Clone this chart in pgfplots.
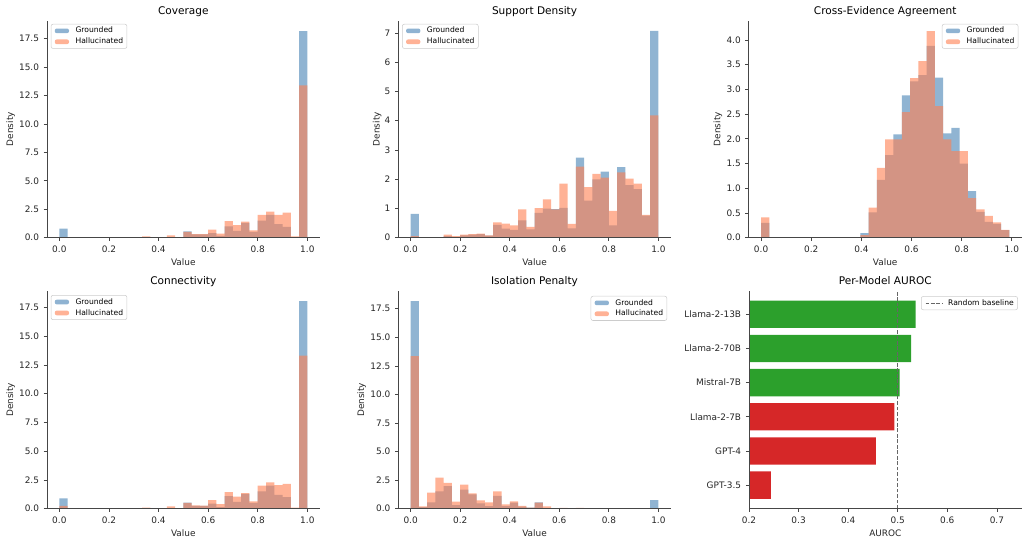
\documentclass[border=0pt]{standalone}
\usepackage{fontspec}
\setmainfont{DejaVu Sans}
\usepackage{pgfplots}
\usepackage{pgfplotstable}
\pgfplotsset{compat=1.18}

\definecolor{groundblue}{RGB}{70,130,180}
\definecolor{hallorange}{RGB}{255,127,80}
\definecolor{goodgreen}{RGB}{44,160,44}
\definecolor{badred}{RGB}{214,39,40}
\definecolor{spine}{RGB}{70,70,70}

\newcommand\tickfont{\fontsize{6.7}{7.8}\selectfont}
\newcommand\titlefont{\fontsize{7.9}{9.2}\selectfont}
\newcommand\legfont{\fontsize{5.7}{6.6}\selectfont}

% histogram densities: bin centre, grounded, hallucinated
\pgfplotstableread{
x g h
0.0167 0.80 0.00
0.0500 0 0
0.0833 0 0
0.1167 0 0
0.1500 0 0
0.1833 0 0
0.2167 0 0
0.2500 0 0
0.2833 0 0
0.3167 0 0
0.3500 0 0.12
0.3833 0 0.05
0.4167 0.05 0.05
0.4500 0 0.20
0.4833 0 0
0.5167 0.55 0.50
0.5500 0.30 0.32
0.5833 0.30 0.32
0.6167 0.40 0.70
0.6500 0.15 0.35
0.6833 1.00 1.45
0.7167 0.60 1.10
0.7500 1.30 1.40
0.7833 0.50 0.65
0.8167 1.50 2.00
0.8500 2.00 2.30
0.8833 1.20 2.00
0.9167 0.95 2.20
0.9500 0 0.12
0.9833 18.17 13.40
}\coverage

\pgfplotstableread{
x g h
0.0167 0.81 0.05
0.0500 0 0
0.0833 0 0.02
0.1167 0 0
0.1500 0.05 0.10
0.1833 0.03 0.05
0.2167 0.08 0.10
0.2500 0.10 0.12
0.2833 0.12 0.14
0.3167 0.07 0.08
0.3500 0.44 0.52
0.3833 0.31 0.48
0.4167 0.27 0.42
0.4500 0.59 0.97
0.4833 0.28 0.37
0.5167 0.85 1.01
0.5500 0.99 1.31
0.5833 0.98 0.97
0.6167 1.02 1.85
0.6500 0.32 0.47
0.6833 2.74 2.43
0.7167 1.27 1.73
0.7500 1.99 2.18
0.7833 2.26 2.05
0.8167 0.42 0.92
0.8500 2.41 2.23
0.8833 1.80 2.02
0.9167 1.66 1.85
0.9500 0.75 0.78
0.9833 7.07 4.18
}\support

\pgfplotstableread{
x g h
0.0165 0.30 0.41
0.4125 0.09 0.05
0.4455 0.51 0.61
0.4785 1.17 1.41
0.5115 1.67 1.99
0.5445 2.09 1.99
0.5775 2.88 2.54
0.6105 3.16 3.23
0.6435 3.29 3.57
0.6765 3.88 4.18
0.7095 3.24 2.66
0.7425 2.11 1.99
0.7755 2.22 1.75
0.8085 1.50 1.75
0.8415 0.94 0.80
0.8745 0.52 0.57
0.9075 0.32 0.44
0.9405 0.28 0.31
0.9735 0.15 0.16
}\agreement

\pgfplotstableread{
x g h
0.0167 0.90 0.25
0.0500 0 0
0.0833 0 0
0.1167 0 0
0.1500 0 0
0.1833 0 0
0.2167 0 0
0.2500 0 0
0.2833 0 0
0.3167 0 0
0.3500 0 0.10
0.3833 0 0.05
0.4167 0.05 0.05
0.4500 0 0.20
0.4833 0 0
0.5167 0.53 0.50
0.5500 0.25 0.30
0.5833 0.25 0.28
0.6167 0.45 0.75
0.6500 0.15 0.40
0.6833 1.10 1.45
0.7167 0.60 1.05
0.7500 1.30 1.35
0.7833 0.50 0.65
0.8167 1.50 2.00
0.8500 2.00 2.30
0.8833 1.20 2.05
0.9167 1.00 2.15
0.9500 0 0.10
0.9833 18.05 13.30
}\connectivity

\pgfplotstableread{
x g h
0.0167 18.17 13.36
0.0500 0.15 0.20
0.0833 0.56 1.40
0.1167 1.53 2.73
0.1500 1.97 2.26
0.1833 0.32 0.62
0.2167 1.67 2.11
0.2500 1.26 1.35
0.2833 0.47 0.73
0.3167 0.23 0.56
0.3500 1.12 1.53
0.3833 0.23 0.38
0.4167 0.53 0.65
0.4500 0.18 0.26
0.4833 0.10 0.10
0.5167 0.56 0.53
0.5500 0.05 0.20
0.5833 0.05 0.00
0.6167 0 0.08
0.6500 0 0
0.6833 0 0.08
0.7167 0 0
0.7500 0 0
0.7833 0 0
0.8167 0 0
0.8500 0 0
0.8833 0 0
0.9167 0 0
0.9500 0 0
0.9833 0.76 0
}\isolation

\pgfplotsset{
  base/.style={
    scale only axis, anchor=south west,
    axis x line*=bottom, axis y line*=left, axis on top,
    tick align=outside, major tick length=2.4pt,
    every tick/.style={spine, line width=0.55pt},
    axis line style={spine, line width=0.55pt},
    tick label style={font=\tickfont, text=black!85},
    label style={font=\tickfont, text=black!85},
    every axis title shift=0pt,
    title style={font=\titlefont, at={(0.5,1)}, anchor=base, yshift=4.6pt, inner sep=0pt},
    /pgf/number format/assume math mode=true,
    xlabel style={at={([yshift=-18.4pt]axis description cs:0.5,0)}, anchor=center, inner sep=0pt},
    legend cell align=left,
    legend style={font=\legfont, draw=black!20, fill=white, fill opacity=0.8,
      text opacity=1, rounded corners=1.5pt, inner xsep=2.8pt, inner ysep=2.3pt,
      row sep=2.8pt, nodes={inner sep=0pt, text height=4.3pt, text depth=1.1pt}},
  },
  hist/.style={
    base,
    xtick={0,0.2,0.4,0.6,0.8,1},
    xticklabel style={/pgf/number format/.cd, fixed, fixed zerofill, precision=1},
    yticklabel style={/pgf/number format/.cd, fixed, fixed zerofill, precision=1},
    xlabel={Value}, ylabel={Density},
    ymin=0,
  },
  ylabelat/.style={ylabel style={at={([xshift=-#1]axis description cs:0,0.5)}, anchor=center, inner sep=0pt}},
  gbar/.style={ybar, bar width=#1, bar shift=0pt, fill=groundblue, draw=none,
    fill opacity=0.6,
    legend image code/.code={\fill[groundblue, opacity=0.6] (0pt,-1.75pt) rectangle (10.7pt,1.75pt); \path (15.6pt,0pt);}},
  hbar/.style={ybar, bar width=#1, bar shift=0pt, fill=hallorange, draw=none,
    fill opacity=0.6,
    legend image code/.code={\fill[hallorange, opacity=0.6] (0pt,-1.75pt) rectangle (10.7pt,1.75pt); \path (15.6pt,0pt);}},
  baseline line/.style={black!60, line width=0.75pt, dash pattern=on 2.8pt off 1.3pt,
    legend image code/.code={\draw[black!60, line width=0.75pt, dash pattern=on 2.8pt off 1.3pt] (0pt,0pt) -- (13.3pt,0pt); \path (16.6pt,0pt);}},
}

\begin{document}
\begin{tikzpicture}
\useasboundingbox (0,0) rectangle (771.75pt,407.25pt);

% Coverage
\begin{axis}[hist, at={(35.2pt,229pt)}, width=204.6pt, height=162.75pt,
  xmin=-0.05, xmax=1.05, ymax=19.08, ytick={0,2.5,5,7.5,10,12.5,15,17.5},
  title={Coverage}, ylabelat=27.2pt,
  legend style={at={(0.014,0.985)}, anchor=north west}]
\addplot[gbar=0.03333] table[x=x, y=g] {\coverage};
\addlegendentry{Grounded}
\addplot[hbar=0.03333] table[x=x, y=h] {\coverage};
\addlegendentry{Hallucinated}
\end{axis}

% Support Density
\begin{axis}[hist, at={(298.7pt,229pt)}, width=204.4pt, height=162.75pt,
  xmin=-0.05, xmax=1.05, ymax=7.42, ytick={0,1,2,3,4,5,6,7},
  yticklabel style={/pgf/number format/.cd, fixed, precision=0},
  title={Support Density}, ylabelat=15.8pt,
  legend style={at={(0.014,0.985)}, anchor=north west}]
\addplot[gbar=0.03333] table[x=x, y=g] {\support};
\addlegendentry{Grounded}
\addplot[hbar=0.03333] table[x=x, y=h] {\support};
\addlegendentry{Hallucinated}
\end{axis}

% Cross-Evidence Agreement
\begin{axis}[hist, at={(561.5pt,229pt)}, width=204.8pt, height=162.75pt,
  xmin=-0.0495, xmax=1.0395, ymax=4.39, ytick={0,0.5,1,1.5,2,2.5,3,3.5,4},
  title={Cross-Evidence Agreement}, ylabelat=23pt,
  legend style={at={(0.9875,0.985)}, anchor=north east}]
\addplot[gbar=0.033] table[x=x, y=g] {\agreement};
\addlegendentry{Grounded}
\addplot[hbar=0.033] table[x=x, y=h] {\agreement};
\addlegendentry{Hallucinated}
\end{axis}

% Connectivity
\begin{axis}[hist, at={(35.2pt,25.7pt)}, width=204.6pt, height=163.5pt,
  xmin=-0.05, xmax=1.05, ymax=18.95, ytick={0,2.5,5,7.5,10,12.5,15,17.5},
  title={Connectivity}, ylabelat=27.2pt,
  legend style={at={(0.014,0.98)}, anchor=north west}]
\addplot[gbar=0.03333] table[x=x, y=g] {\connectivity};
\addlegendentry{Grounded}
\addplot[hbar=0.03333] table[x=x, y=h] {\connectivity};
\addlegendentry{Hallucinated}
\end{axis}

% Isolation Penalty
\begin{axis}[hist, at={(298.7pt,25.7pt)}, width=204.4pt, height=163.5pt,
  xmin=-0.05, xmax=1.05, ymax=19.08, ytick={0,2.5,5,7.5,10,12.5,15,17.5},
  title={Isolation Penalty}, ylabelat=27.5pt,
  legend style={at={(0.9865,0.976)}, anchor=north east}]
\addplot[gbar=0.03333] table[x=x, y=g] {\isolation};
\addlegendentry{Grounded}
\addplot[hbar=0.03333] table[x=x, y=h] {\isolation};
\addlegendentry{Hallucinated}
\end{axis}

% Per-model AUROC
\begin{axis}[base, at={(561.75pt,25.7pt)}, width=204.5pt, height=163.5pt,
  xmin=0.2, xmax=0.75, ymin=-0.69, ymax=5.69,
  xtick={0.2,0.3,0.4,0.5,0.6,0.7},
  xticklabel style={/pgf/number format/.cd, fixed, fixed zerofill, precision=1},
  ytick={0,1,2,3,4,5},
  yticklabels={GPT-3.5,GPT-4,Llama-2-7B,Mistral-7B,Llama-2-70B,Llama-2-13B},
  xlabel={AUROC}, title={Per-Model AUROC},
  legend style={at={(0.986,0.975)}, anchor=north east}]
\addplot[xbar, bar width=0.8, bar shift=0pt, fill=goodgreen, draw=none, forget plot]
  coordinates {(0.536,5) (0.527,4) (0.504,3)};
\addplot[xbar, bar width=0.8, bar shift=0pt, fill=badred, draw=none, forget plot]
  coordinates {(0.493,2) (0.456,1) (0.244,0)};
\addplot[baseline line] coordinates {(0.5,-0.69) (0.5,5.69)};
\addlegendentry{Random baseline}
\end{axis}
\end{tikzpicture}
\end{document}
